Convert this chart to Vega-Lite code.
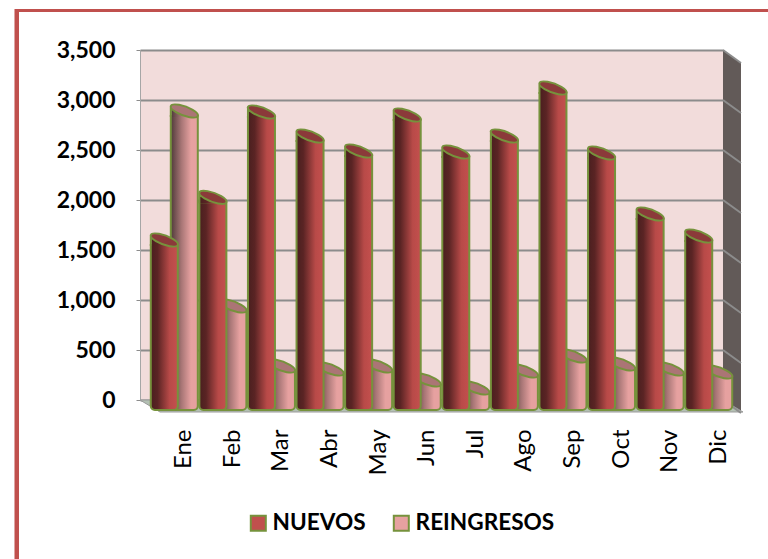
{"$schema":"https://vega.github.io/schema/vega-lite/v6.json","width":583,"height":350,"autosize":"none","padding":{"left":140,"top":50,"right":45,"bottom":159},"background":"white","view":{"fill":"#f2dcdb","stroke":null},
"data":{"values":[
{"mes":"Ene","serie":"NUEVOS","valor":1700},{"mes":"Feb","serie":"NUEVOS","valor":2127},{"mes":"Mar","serie":"NUEVOS","valor":2980},{"mes":"Abr","serie":"NUEVOS","valor":2740},{"mes":"May","serie":"NUEVOS","valor":2590},{"mes":"Jun","serie":"NUEVOS","valor":2950},{"mes":"Jul","serie":"NUEVOS","valor":2580},{"mes":"Ago","serie":"NUEVOS","valor":2740},{"mes":"Sep","serie":"NUEVOS","valor":3220},{"mes":"Oct","serie":"NUEVOS","valor":2570},{"mes":"Nov","serie":"NUEVOS","valor":1960},{"mes":"Dic","serie":"NUEVOS","valor":1740},
{"mes":"Ene","serie":"REINGRESOS","valor":2990},{"mes":"Feb","serie":"REINGRESOS","valor":1040},{"mes":"Mar","serie":"REINGRESOS","valor":440},{"mes":"Abr","serie":"REINGRESOS","valor":410},{"mes":"May","serie":"REINGRESOS","valor":440},{"mes":"Jun","serie":"REINGRESOS","valor":300},{"mes":"Jul","serie":"REINGRESOS","valor":220},{"mes":"Ago","serie":"REINGRESOS","valor":390},{"mes":"Sep","serie":"REINGRESOS","valor":540},{"mes":"Oct","serie":"REINGRESOS","valor":460},{"mes":"Nov","serie":"REINGRESOS","valor":410},{"mes":"Dic","serie":"REINGRESOS","valor":380}]},
"encoding":{
"x":{"field":"mes","type":"nominal","title":null,"scale":{"domain":["Ene","Feb","Mar","Abr","May","Jun","Jul","Ago","Sep","Oct","Nov","Dic"],"paddingInner":0,"paddingOuter":0},"axis":{"domain":false,"ticks":false,"labelAngle":-90,"labelAlign":"right","labelBaseline":"middle","labelPadding":29,"labelOffset":20,"labelFont":"Lato","labelFontSize":24,"labelColor":"#000000"}},
"y":{"field":"valor","type":"quantitative","title":null,"scale":{"domain":[0,3500],"nice":false},"axis":{"values":[0,500,1000,1500,2000,2500,3000,3500],"format":",d","grid":true,"gridColor":"#8c8c8c","gridWidth":2,"domainColor":"#a6a6a6","tickColor":"#8c8c8c","tickSize":4,"labelPadding":21,"labelFont":"Lato","labelFontWeight":"bold","labelFontSize":23,"labelColor":"#000000"}}},
"layer":[
{"transform":[{"filter":"datum.mes=='Ene' && datum.serie=='NUEVOS'"}],"mark":{"type":"point","filled":true,"opacity":1,"size":4,"fill":"#c0504d","stroke":null,"shape":"M-149.8,159 L-149.8,-391 L603.7,-391 L603.7,-388 L-145.3,-388 L-145.3,159 Z"},"encoding":{"y":{"datum":0}}},
{"transform":[{"filter":"datum.mes=='Ene' && datum.serie=='NUEVOS'"}],"mark":{"type":"point","filled":true,"opacity":1,"size":4,"fill":"#625a58","stroke":null,"shape":"M558.7,0 L576.7,13 L576.7,-337 L558.7,-350 Z"},"encoding":{"y":{"datum":0}}},
{"transform":[{"filter":"datum.mes=='Ene' && datum.serie=='NUEVOS'"}],"mark":{"type":"point","filled":true,"opacity":1,"size":4,"fill":"#b3c0b3","stroke":"#9a9a9a","strokeWidth":1,"shape":"M-24.3,0 L-4.3,12 L578.7,12 L558.7,0 Z"},"encoding":{"y":{"datum":0}}},
{"data":{"values":[{"mes":"Ene","v":0},{"mes":"Ene","v":500},{"mes":"Ene","v":1000},{"mes":"Ene","v":1500},{"mes":"Ene","v":2000},{"mes":"Ene","v":2500},{"mes":"Ene","v":3000},{"mes":"Ene","v":3500}]},"mark":{"type":"point","filled":false,"opacity":1,"size":4,"stroke":"#8c8c8c","strokeWidth":2,"shape":"M558.7,0 L576.7,13"},"encoding":{"y":{"field":"v","type":"quantitative"}}},
{"transform":[{"filter":"datum.mes=='Ene'"}],"mark":{"type":"square","size":1,"opacity":1},"encoding":{"y":{"datum":0},"color":{"field":"serie","type":"nominal","scale":{"domain":["NUEVOS","REINGRESOS"],"range":["#c0504d","#e6a1a0"]},"legend":{"title":null,"orient":"none","legendX":107,"legendY":462,"direction":"horizontal","symbolType":"square","symbolSize":225,"symbolStrokeColor":"#76923c","symbolStrokeWidth":2,"symbolOpacity":1,"labelFont":"Lato","labelFontWeight":"bold","labelFontSize":22.6,"labelColor":"#000000","labelOffset":3,"columnPadding":23}}}},

{"transform":[{"filter":"datum.serie=='REINGRESOS'"}],"mark":{"type":"bar","width":27,"xOffset":20,"yOffset":15,"y2Offset":10,"cornerRadiusBottomLeft":4,"cornerRadiusBottomRight":4,"stroke":"#76923c","strokeWidth":2,"fill":{"gradient":"linear","x1":0,"x2":1,"y1":0,"y2":0,"stops":[{"offset":0,"color":"#4f3a3a"},{"offset":0.4,"color":"#a87676"},{"offset":0.75,"color":"#e6a1a0"},{"offset":1,"color":"#e6a1a0"}]}},"encoding":{"y2":{"datum":0}}},
{"transform":[{"filter":"datum.serie=='REINGRESOS'"}],"mark":{"type":"point","filled":true,"opacity":1,"size":4,"xOffset":20,"yOffset":10,"stroke":null,"fill":{"gradient":"linear","x1":0,"x2":1,"y1":0,"y2":0,"stops":[{"offset":0,"color":"#4f3a3a"},{"offset":0.4,"color":"#a87676"},{"offset":0.75,"color":"#e6a1a0"},{"offset":1,"color":"#e6a1a0"}]},"shape":"M-13,-5 L13,5 L13,6 L-13,6 Z"}},
{"transform":[{"filter":"datum.serie=='REINGRESOS'"}],"mark":{"type":"point","filled":true,"opacity":1,"size":4,"xOffset":20,"yOffset":10,"fill":"#ab7575","stroke":"#76923c","strokeWidth":2,"shape":"M-13.5,-5 A14.4,4.5 20 1 1 13.5,5 A14.4,4.5 20 1 1 -13.5,-5 Z M-13.5,-5 L-13.5,6"}},

{"transform":[{"filter":"datum.serie=='NUEVOS'"}],"mark":{"type":"bar","width":27,"yOffset":15,"y2Offset":10,"cornerRadiusBottomLeft":4,"cornerRadiusBottomRight":4,"stroke":"#76923c","strokeWidth":2,"fill":{"gradient":"linear","x1":0,"x2":1,"y1":0,"y2":0,"stops":[{"offset":0,"color":"#4a1f1f"},{"offset":0.25,"color":"#5a2424"},{"offset":0.7,"color":"#b84a48"},{"offset":1,"color":"#c4504e"}]}},"encoding":{"y2":{"datum":0}}},
{"transform":[{"filter":"datum.serie=='NUEVOS'"}],"mark":{"type":"point","filled":true,"opacity":1,"size":4,"yOffset":10,"stroke":null,"fill":{"gradient":"linear","x1":0,"x2":1,"y1":0,"y2":0,"stops":[{"offset":0,"color":"#4a1f1f"},{"offset":0.25,"color":"#5a2424"},{"offset":0.7,"color":"#b84a48"},{"offset":1,"color":"#c4504e"}]},"shape":"M-13,-5 L13,5 L13,6 L-13,6 Z"}},
{"transform":[{"filter":"datum.serie=='NUEVOS'"}],"mark":{"type":"point","filled":true,"opacity":1,"size":4,"yOffset":10,"fill":"#8b3a3a","stroke":"#76923c","strokeWidth":2,"shape":"M-13.5,-5 A14.4,4.5 20 1 1 13.5,5 A14.4,4.5 20 1 1 -13.5,-5 Z M-13.5,-5 L-13.5,6"}}
]}
